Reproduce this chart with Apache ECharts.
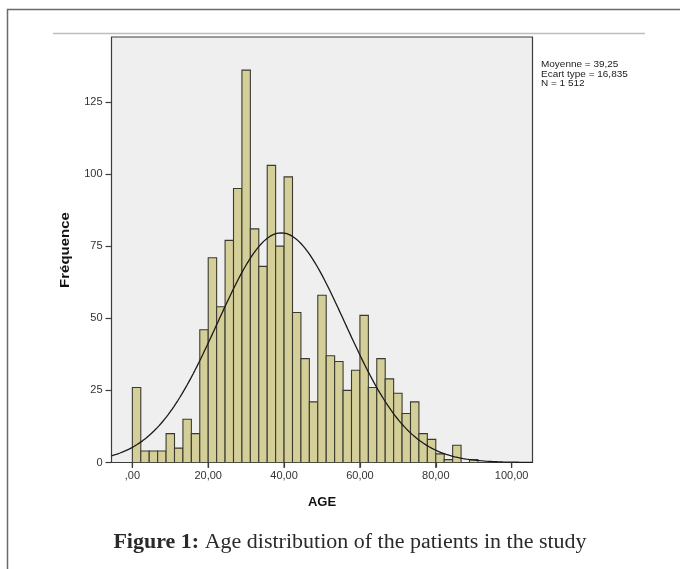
<!DOCTYPE html>
<html>
<head>
<meta charset="utf-8">
<script src="https://cdn.jsdelivr.net/npm/echarts@6/dist/echarts.min.js"></script>
<style>
  html, body { margin: 0; padding: 0; background: #ffffff; }
  #chart { width: 680px; height: 569px; }
</style>
</head>
<body>
<div id="chart"></div>
<script>
// Histogram of patient ages: 45 bins of equal width over 0–100 years
const BIN_WIDTH = 20 / 9;
const binCounts = [
  26, 4, 4, 4, 10, 5, 15, 10, 46,
  71, 54, 77, 95, 136, 81, 68, 103, 75,
  99, 52, 36, 21, 58, 37, 35, 25, 32,
  51, 26, 36, 29, 24, 17, 21, 10, 8,
  3, 1, 6, 0, 1
];

// Summary statistics printed beside the plot
const statMean = 39.25;
const statSd = 16.835;
const statN = 1512;
const statLines = ['Moyenne = 39,25', 'Ecart type = 16,835', 'N = 1 512'];

// Axis ticks and their labels
const xTickValues = [0, 20, 40, 60, 80, 100];
const xTickLabels = [',00', '20,00', '40,00', '60,00', '80,00', '100,00'];
const yTickValues = [0, 25, 50, 75, 100, 125];
const yTickLabels = ['0', '25', '50', '75', '100', '125'];

const X_MIN = -5.5, X_MAX = 105.5, Y_MAX = 147.5;

// Bar rectangles: [bin start, bin end, count]
const barData = binCounts.map((c, i) => [i * BIN_WIDTH, (i + 1) * BIN_WIDTH, c]);

// Fitted normal curve scaled to counts per bin
const curveData = [];
for (let x = X_MIN; x <= X_MAX + 1e-9; x += 0.25) {
  const z = (x - statMean) / statSd;
  const y = statN * BIN_WIDTH / (statSd * Math.sqrt(2 * Math.PI)) * Math.exp(-0.5 * z * z);
  curveData.push([x, y]);
}

const FONT = "'Liberation Sans', Arial, sans-serif";
const AXIS_COLOR = '#3c3c3c';
const chart = echarts.init(document.getElementById('chart'), null, { renderer: 'canvas' });

chart.setOption({
  animation: false,
  backgroundColor: '#ffffff',
  grid: {
    left: 111.5, top: 37, width: 421, height: 425.5,
    show: true, backgroundColor: '#efefef', borderColor: AXIS_COLOR, borderWidth: 1.2
  },
  xAxis: {
    type: 'value', min: X_MIN, max: X_MAX, position: 'bottom',
    splitLine: { show: false },
    axisLine: { show: true, onZero: false, lineStyle: { color: AXIS_COLOR, width: 1.2 } },
    axisTick: { show: true, inside: false, length: 5, customValues: xTickValues,
      lineStyle: { color: AXIS_COLOR, width: 1.2 } },
    axisLabel: {
      customValues: xTickValues, margin: 8,
      color: '#333', fontFamily: FONT, fontSize: 11,
      formatter: v => xTickLabels[xTickValues.indexOf(v)]
    }
  },
  yAxis: {
    type: 'value', min: 0, max: Y_MAX, position: 'left',
    splitLine: { show: false },
    axisLine: { show: false, onZero: false },
    axisTick: { show: true, inside: false, length: 6, customValues: yTickValues,
      lineStyle: { color: AXIS_COLOR, width: 1.2 } },
    axisLabel: {
      customValues: yTickValues, margin: 9,
      color: '#333', fontFamily: FONT, fontSize: 11,
      formatter: v => yTickLabels[yTickValues.indexOf(v)]
    }
  },
  series: [
    {
      type: 'custom',
      clip: true,
      data: barData,
      encode: { x: [0, 1], y: 2 },
      renderItem: function (params, api) {
        const count = api.value(2);
        if (!count) return null;
        const p0 = api.coord([api.value(0), count]);
        const p1 = api.coord([api.value(1), 0]);
        return {
          type: 'rect',
          shape: { x: p0[0], y: p0[1], width: p1[0] - p0[0], height: p1[1] - p0[1] },
          style: { fill: '#d4cf98', stroke: '#3a3a30', lineWidth: 1.1 }
        };
      }
    },
    {
      type: 'line',
      data: curveData,
      showSymbol: false,
      smooth: false,
      clip: true,
      lineStyle: { color: '#1a1a1a', width: 1.3 },
      z: 5
    },
    {
      // tick marks below the age axis
      type: 'custom',
      clip: false,
      silent: true,
      data: xTickValues.map(v => [v, 0]),
      encode: { x: 0, y: 1 },
      renderItem: function (params, api) {
        const p = api.coord([api.value(0), 0]);
        return {
          type: 'rect',
          shape: { x: p[0] - 0.6, y: p[1], width: 1.2, height: 5.5 },
          style: { fill: AXIS_COLOR }
        };
      },
      z: 6
    }
  ],
  graphic: [
    // page frame and rule above the figure
    { type: 'polyline', silent: true,
      shape: { points: [[7.5, 569], [7.5, 9.5], [680, 9.5]] },
      style: { stroke: '#6a6a6a', lineWidth: 1.5, fill: null } },
    { type: 'line', silent: true,
      shape: { x1: 53, y1: 33.5, x2: 645, y2: 33.5 },
      style: { stroke: '#bdbdbd', lineWidth: 1.5 } },
    // axis titles
    { type: 'text', x: 66, y: 250, rotation: Math.PI / 2, scaleX: 1.25,
      style: { text: 'Fréquence', font: "bold 12px 'Liberation Sans', Arial, sans-serif",
        fill: '#111', textAlign: 'center', textVerticalAlign: 'middle' } },
    { type: 'text', x: 322, y: 502,
      style: { text: 'AGE', font: "bold 13px 'Liberation Sans', Arial, sans-serif",
        fill: '#111', textAlign: 'center', textVerticalAlign: 'middle' } },
    // summary statistics
    { type: 'text', x: 541, y: 60, scaleX: 1.05,
      style: { text: statLines.join('\n'), font: "9.5px 'Liberation Sans', Arial, sans-serif",
        lineHeight: 9.5, fill: '#222', textAlign: 'left', textVerticalAlign: 'top' } },
    // caption
    { type: 'text', x: 350, y: 543, scaleX: 1.1,
      style: {
        text: '{b|Figure 1:} Age distribution of the patients in the study',
        font: "20px 'Liberation Serif', 'Times New Roman', serif",
        fill: '#2a2a2a', textAlign: 'center', textVerticalAlign: 'middle',
        rich: { b: { font: "bold 20px 'Liberation Serif', 'Times New Roman', serif", fill: '#2a2a2a' } }
      } }
  ]
});
</script>
</body>
</html>
